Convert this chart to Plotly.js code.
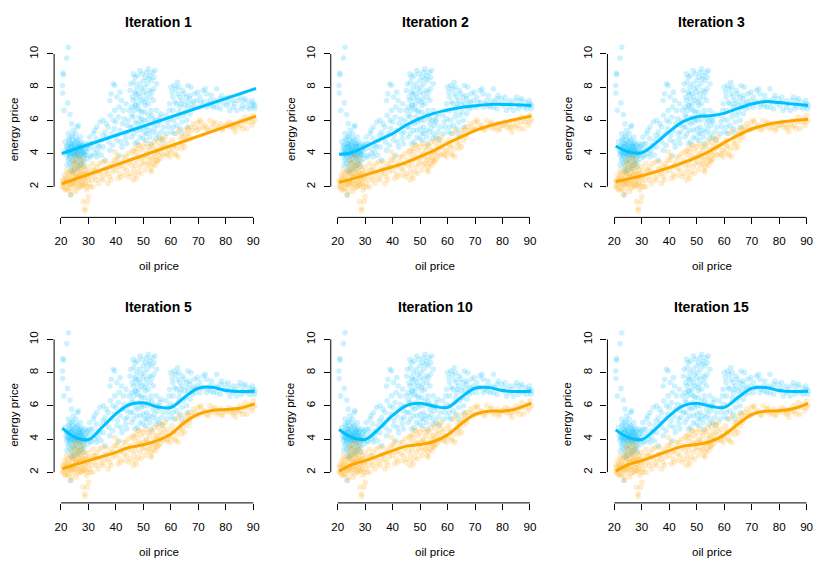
<!DOCTYPE html>
<html>
<head>
    <title>Iterations</title>
    <script src="https://cdn.plot.ly/plotly-3.0.1.min.js"></script>
    <style>
        body { margin: 0; background: white; }
        #chart { width: 830px; height: 571px; }
    </style>
</head>
<body>
    <div id="chart"></div>
    <script>
        // scatter data (same in every panel)
        const blueOil = [
            22.7, 22.1, 20.7, 20.9, 20.5, 20.6, 22.4, 21.1, 23.3, 23.9, 26.3, 26.0, 24.5,
            21.5, 21.8, 22.0, 22.3, 22.6, 22.8, 23.0, 23.2, 23.4, 23.6, 23.8, 24.0, 24.1, 24.3,
            24.5, 24.6, 24.8, 25.0, 25.1, 25.3, 25.5, 25.6, 25.8, 26.0, 26.1, 26.3, 26.5, 26.7,
            26.9, 27.0, 27.2, 27.4, 27.6, 27.8, 28.0, 28.2, 28.5, 28.7, 29.0, 29.3, 29.6, 23.5,
            24.4, 25.9, 22.2, 24.2, 25.4, 27.1, 23.5,
            30.2, 30.6, 31.0, 31.8, 32.4, 33.0, 33.5, 34.2, 34.8, 35.4, 35.4, 36.0, 36.6, 37.2,
            37.8, 37.8, 38.3, 39.0, 39.6, 39.0, 39.6, 40.3, 40.3, 40.9, 41.5, 42.0, 42.7, 42.2,
            43.3, 43.9, 44.5, 44.0, 36.0, 33.0, 38.5, 41.0,
            45.1, 45.7, 45.7, 46.3, 46.9, 46.3, 46.3, 46.9, 47.5, 47.5, 48.2, 48.8, 48.8, 48.8,
            49.4, 49.4, 50.0, 50.0, 50.6, 50.6, 51.2, 51.2, 51.2, 51.8, 51.8, 51.8, 52.4, 52.4,
            53.0, 53.0, 53.6, 53.6, 54.2, 54.8, 54.8, 54.8, 55.4, 56.0, 56.6, 57.3, 47.0, 48.0,
            50.2, 52.8, 49.8, 46.0, 53.2, 47.6, 50.4,
            58.5, 59.1, 59.6, 59.7, 60.7, 60.8, 60.8, 61.2, 61.8, 62.4, 62.7, 63.2, 63.3, 63.3,
            64.3, 64.5, 65.1, 65.6, 65.8, 66.1, 66.8, 67.0, 67.3, 67.6, 68.6, 69.4, 62.0, 64.0,
            70.6, 70.6, 71.8, 73.0, 73.0, 74.2, 74.8, 75.5, 76.7, 76.7, 77.9, 79.1, 80.9, 81.5,
            82.7, 82.7, 84.0, 85.2, 85.8, 86.4, 87.6, 88.2, 89.4, 90.0, 90.6, 72.0, 78.5
        ];
        const blueEnergy = [
            10.4, 9.75, 8.85, 8.75, 8.1, 7.65, 7.05, 6.6, 6.35, 5.8, 5.7, 5.6, 5.4,
            4.7, 4.2, 3.9, 4.5, 3.6, 4.9, 4.1, 3.4, 4.4, 3.8, 4.6, 3.2, 4.0, 4.8,
            3.6, 4.3, 3.9, 4.5, 3.4, 4.1, 3.7, 4.9, 4.3, 3.5, 4.0, 4.6, 3.8, 4.2,
            3.3, 4.4, 3.9, 4.7, 3.6, 4.1, 3.8, 4.5, 3.5, 4.2, 3.9, 4.4, 3.7, 3.0,
            2.9, 3.1, 3.3, 5.1, 5.2, 5.0, 1.5,
            4.3, 4.6, 3.9, 5.2, 4.0, 5.6, 4.5, 5.9, 4.8, 4.4, 6.0, 5.3, 5.0, 5.6,
            4.2, 7.2, 7.6, 8.2, 8.1, 6.0, 6.6, 7.4, 4.8, 6.2, 5.4, 7.2, 6.6, 4.4,
            5.2, 4.6, 6.0, 5.7, 3.6, 3.8, 5.2, 3.9,
            7.8, 6.8, 5.0, 8.8, 8.6, 7.2, 6.2, 7.7, 8.0, 5.4, 7.6, 9.0, 6.6, 5.0,
            7.2, 6.1, 8.4, 7.7, 6.5, 5.2, 8.9, 7.6, 5.6, 9.1, 7.0, 6.3, 8.7, 5.0,
            8.4, 7.7, 7.2, 5.8, 9.0, 8.2, 6.6, 5.2, 6.0, 6.2, 5.3, 5.6, 6.9, 5.8,
            6.0, 6.6, 4.9, 5.6, 5.3, 7.3, 7.1,
            5.2, 5.6, 7.0, 6.1, 7.4, 6.6, 5.6, 8.1, 7.9, 8.3, 6.2, 7.4, 6.8, 5.5,
            7.8, 6.3, 6.9, 7.4, 6.0, 8.1, 7.5, 6.4, 8.0, 7.0, 7.6, 7.2, 7.0, 7.2,
            7.4, 6.8, 7.8, 7.6, 6.8, 7.2, 7.5, 6.8, 7.9, 6.8, 7.3, 7.0, 7.4, 6.6,
            7.2, 6.8, 6.6, 7.4, 6.7, 7.2, 6.8, 7.1, 6.9, 7.0, 6.9, 7.1, 7.5
        ];
        const blueOilMore = [
            45.4, 46.0, 46.6, 47.2, 47.8, 48.4, 48.6, 49.1, 49.6, 50.3, 50.8, 51.4, 52.0, 52.6,
            53.3, 53.9, 49.0, 47.3, 48.0, 51.0, 52.2, 53.8, 46.6, 50.7,
            45.2, 45.8, 46.5, 47.2, 47.8, 48.4, 48.9, 49.5, 50.1, 50.9, 51.5, 52.1, 52.7, 53.4,
            54.0, 54.6, 55.2, 55.8, 56.4, 57.0, 46.9, 49.2, 51.3, 53.0, 54.4, 55.9,
            36.5, 37.4, 38.0, 38.8, 39.4, 40.0, 40.6, 41.2, 41.8, 42.4, 43.0, 43.6, 44.2, 44.8,
            41.5, 43.7,
            30.8, 31.4, 32.0, 32.8, 33.4, 34.0, 34.6, 35.2, 30.4, 32.2,
            22.1, 22.5, 22.9, 23.1, 23.7, 24.2, 24.7, 25.2, 25.7, 26.2, 26.8, 27.3, 27.9, 28.4,
            28.9, 29.4, 23.3, 24.9, 26.6, 27.5, 25.0, 26.4, 28.3, 29.8, 22.7, 23.9,
            58.2, 58.8, 59.4, 60.2, 60.5, 61.0, 61.5, 62.1, 62.6, 63.0, 63.7, 64.1, 64.8, 65.3,
            65.9, 66.4, 67.0, 67.8, 68.3, 69.0, 69.7, 61.3, 63.9, 66.0, 60.0, 62.9,
            71.0, 72.5, 73.6, 74.6, 75.9, 77.2, 78.0, 79.6, 80.4, 81.0, 83.2, 84.6, 86.0, 87.0,
            88.8, 89.7, 90.4,
            22.4, 22.8, 23.4, 23.8, 24.3, 24.6, 25.1, 25.5, 25.9, 26.3, 26.7, 27.1, 27.6, 28.0,
            28.6, 23.0, 24.0, 25.3, 26.0, 27.0
        ];
        const blueEnergyMore = [
            8.2, 7.4, 8.3, 6.9, 8.7, 7.0, 8.2, 7.9, 8.8, 8.0, 8.6, 8.2, 8.5, 7.4,
            8.9, 8.6, 7.4, 7.6, 6.7, 7.3, 7.8, 7.9, 6.6, 6.9,
            5.6, 6.3, 5.2, 5.9, 4.7, 6.2, 5.4, 6.5, 5.5, 4.8, 6.0, 5.4, 4.6, 6.1,
            5.5, 4.9, 5.7, 5.0, 6.4, 4.8, 4.6, 5.9, 5.2, 6.3, 6.0, 5.9,
            5.8, 4.7, 6.3, 4.5, 5.5, 5.9, 5.1, 6.8, 4.7, 5.8, 6.1, 4.9, 5.3, 6.6,
            7.7, 7.0,
            3.8, 4.6, 4.3, 4.9, 4.1, 4.4, 3.9, 5.1, 5.0, 5.4,
            4.4, 4.0, 3.7, 4.6, 4.2, 3.5, 4.6, 3.9, 4.4, 4.1, 3.7, 4.2, 4.4, 4.0,
            4.6, 4.1, 3.9, 4.2, 4.5, 3.4, 3.0, 3.2, 3.2, 4.5, 5.2, 5.0,
            6.3, 5.9, 6.6, 5.3, 7.7, 6.0, 7.1, 5.7, 7.6, 6.5, 7.0, 5.9, 7.6, 6.5,
            7.1, 6.8, 7.3, 6.7, 7.1, 6.8, 7.7, 5.2, 5.2, 5.6, 8.0, 8.0,
            7.1, 7.9, 7.0, 6.9, 7.2, 7.1, 6.7, 7.3, 6.9, 7.1, 7.0, 7.2, 6.9, 7.3,
            6.7, 7.2, 6.7,
            4.1, 4.3, 4.0, 4.4, 4.1, 3.9, 4.3, 4.0, 4.2, 3.9, 4.4, 4.0, 4.3, 4.1,
            3.9, 4.8, 4.5, 4.7, 4.8, 4.6
        ];
        const orangeOil = [
            20.5, 20.8, 21.2, 21.5, 21.8, 22.1, 22.4, 22.7, 23.0, 23.3, 23.5, 23.9, 24.0, 24.2,
            24.5, 24.5, 24.8, 25.1, 25.3, 25.5, 25.7, 25.9, 26.1, 26.3, 26.5, 26.7, 26.9, 26.9,
            27.2, 27.5, 27.7, 28.0, 28.1, 28.1, 28.1, 28.4, 28.7, 28.7, 28.7, 29.0, 29.3, 29.6,
            29.6, 30.0, 30.0, 30.3, 30.6, 31.2, 31.5, 31.8, 32.4, 33.0, 33.6, 34.2, 35.0, 35.4,
            36.0, 36.6, 37.2, 37.8, 38.4, 39.0, 39.6, 40.3, 40.8, 41.4, 42.0, 42.7, 43.3,
            43.9, 44.5, 45.1, 45.7, 46.3, 46.3, 46.8, 47.5, 47.5, 48.2, 48.8, 49.4, 49.0, 50.0,
            50.6, 51.2, 51.8, 52.0, 52.4, 53.0, 53.6, 53.6, 54.2, 54.8, 55.0, 55.4, 55.4, 56.0,
            56.6, 57.3, 57.9, 58.5, 59.1, 59.7,
            60.8, 61.4, 62.0, 62.7, 63.3, 64.0, 64.5, 65.1, 65.8, 66.4, 67.0, 68.2, 69.4, 70.6,
            71.8, 73.0, 74.2, 75.5, 77.3, 78.5, 79.7, 81.5, 82.7, 84.0, 85.2, 87.0, 87.6, 88.2,
            89.4, 90.0, 90.6, 76.0, 83.5
        ];
        const orangeEnergy = [
            2.0, 2.3, 1.9, 2.5, 2.2, 3.0, 1.8, 2.1, 2.7, 2.4, 1.5, 1.7, 2.9, 2.3,
            2.8, 3.6, 2.0, 3.2, 2.6, 2.2, 3.4, 1.9, 2.9, 2.6, 3.1, 2.3, 2.0, 3.8,
            2.7, 2.3, 3.3, 2.5, 2.8, 3.6, 1.1, 2.1, 2.4, 0.7, 0.55, 3.0, 1.8, 1.1,
            2.6, 1.4, 3.2, 2.2, 2.0, 2.4, 3.4, 3.0, 2.6, 3.2, 2.2, 2.8, 3.5, 2.4,
            3.1, 3.0, 2.2, 2.6, 3.4, 3.2, 4.1, 3.6, 2.5, 2.8, 3.3, 3.8, 2.7,
            3.0, 4.0, 2.8, 3.3, 2.4, 4.2, 3.9, 2.5, 3.6, 4.5, 3.2, 4.2, 3.7, 3.8,
            3.0, 4.0, 4.4, 3.4, 3.6, 3.2, 3.4, 4.4, 3.8, 4.2, 3.5, 3.6, 4.7, 4.4,
            4.0, 4.6, 5.0, 4.0, 4.6, 3.8,
            4.4, 4.0, 5.2, 3.8, 4.6, 4.3, 5.0, 5.4, 4.8, 5.2, 5.6, 5.8, 5.4, 6.0,
            5.6, 5.5, 6.0, 5.8, 5.6, 5.4, 5.7, 5.6, 5.5, 5.8, 6.0, 6.2, 5.5, 5.9,
            5.7, 6.3, 6.0, 5.9, 5.3
        ];
        const orangeOilMore = [
            20.6, 21.0, 21.3, 21.7, 22.0, 22.3, 22.6, 22.9, 23.2, 23.6, 23.8, 24.1, 24.4, 24.7,
            25.0, 25.4, 25.6, 25.8, 26.2, 26.4, 26.8, 27.0, 27.3, 27.6, 27.9, 28.3, 28.6, 28.9,
            29.2, 29.5, 29.8, 30.1, 25.2, 26.0, 27.0, 24.0,
            30.8, 31.6, 32.2, 32.8, 33.4, 34.0, 34.6, 35.8, 36.4, 37.0, 37.6, 38.2, 38.8, 39.4,
            40.0, 40.6, 41.2, 41.8, 42.4, 43.0, 43.6,
            44.2, 44.8, 45.4, 45.9, 46.5, 46.9, 47.1, 47.7, 48.1, 48.5, 49.1, 49.5, 49.9, 50.3,
            50.8, 51.3, 51.6, 52.2, 52.6, 53.2, 53.8, 54.3, 54.6, 55.1, 55.6, 56.2, 56.8, 57.4,
            57.0, 56.0, 54.0, 52.8, 50.8, 48.6, 47.3, 53.0,
            58.1, 58.8, 59.4, 60.1, 60.5, 61.1, 61.8, 62.3, 62.9, 63.6, 64.2, 65.0, 65.5, 66.2,
            66.9, 67.6, 68.8, 69.8,
            70.2, 71.0, 72.4, 73.6, 74.8, 76.6, 78.0, 79.0, 80.5, 81.0, 82.2, 83.0, 84.6, 85.6,
            86.2, 86.8, 88.8, 89.8
        ];
        const orangeEnergyMore = [
            2.4, 2.1, 2.7, 1.8, 2.4, 2.8, 2.5, 1.9, 2.2, 2.9, 2.1, 2.6, 2.2, 3.1,
            2.4, 2.8, 1.7, 2.6, 2.2, 3.3, 2.7, 3.0, 2.0, 2.9, 2.1, 3.2, 2.7, 2.2,
            2.8, 2.0, 2.5, 2.9, 3.6, 3.9, 3.5, 3.3,
            2.7, 2.0, 3.0, 2.4, 2.9, 3.4, 2.5, 2.7, 3.5, 2.8, 3.2, 2.4, 2.9, 3.6,
            3.0, 3.8, 3.2, 2.6, 3.5, 3.1, 3.8,
            3.4, 2.6, 3.6, 4.1, 3.0, 2.7, 3.3, 4.1, 2.9, 3.8, 2.8, 3.4, 4.4, 3.5,
            3.9, 3.3, 3.8, 4.2, 3.0, 3.7, 4.0, 3.3, 3.6, 4.1, 3.9, 3.7, 4.3, 3.9,
            4.9, 4.9, 4.7, 4.5, 4.6, 4.5, 4.3, 2.9,
            4.4, 3.9, 4.2, 4.1, 4.8, 4.5, 3.9, 4.3, 5.4, 4.9, 4.6, 4.4, 5.1, 5.5,
            5.0, 5.4, 5.6, 5.9,
            5.5, 5.9, 5.7, 5.4, 5.6, 5.5, 5.8, 5.5, 5.7, 5.9, 5.8, 5.6, 5.6, 5.7,
            5.5, 5.9, 6.1, 5.9
        ];

        // fitted curves
        const iter1Oil = [20.3, 91];
        const iter1Blue = [4.0, 7.92];
        const iter1Orange = [2.18, 6.25];

        const curveOil = [20.5, 25, 30, 35, 40, 45, 50, 55, 60, 65, 70, 75, 80, 85, 90.5];
        const iter2Blue = [3.95, 4.05, 4.41, 4.81, 5.2, 5.72, 6.12, 6.42, 6.62, 6.78, 6.88, 6.96, 6.96, 6.94, 6.9];
        const iter2Orange = [2.26, 2.46, 2.7, 2.96, 3.2, 3.47, 3.81, 4.17, 4.61, 5.0, 5.38, 5.66, 5.88, 6.06, 6.26];
        const iter3Blue = [4.45, 4.11, 4.05, 4.61, 5.32, 5.92, 6.22, 6.28, 6.42, 6.72, 6.98, 7.13, 7.07, 6.98, 6.9];
        const iter3Orange = [2.3, 2.46, 2.66, 2.9, 3.15, 3.45, 3.77, 4.17, 4.65, 5.1, 5.48, 5.72, 5.88, 5.98, 6.06];
        const iter5Blue = [4.65, 4.11, 3.97, 4.71, 5.52, 6.08, 6.18, 5.95, 5.9, 6.52, 7.06, 7.12, 6.92, 6.86, 6.88];
        const iter5Orange = [2.2, 2.45, 2.7, 2.95, 3.2, 3.5, 3.65, 3.9, 4.3, 5.0, 5.5, 5.72, 5.78, 5.86, 6.12];
        const iter10Blue = [4.57, 4.11, 3.97, 4.61, 5.42, 6.02, 6.16, 5.98, 5.9, 6.52, 7.06, 7.1, 6.92, 6.86, 6.88];
        const iter10Orange = [2.06, 2.44, 2.7, 3.0, 3.3, 3.57, 3.67, 3.85, 4.25, 4.92, 5.48, 5.68, 5.68, 5.82, 6.16];
        const iter15Blue = [4.55, 4.1, 3.97, 4.6, 5.4, 6.0, 6.15, 5.98, 5.9, 6.5, 7.05, 7.1, 6.92, 6.86, 6.88];
        const iter15Orange = [2.06, 2.45, 2.7, 3.0, 3.3, 3.57, 3.67, 3.85, 4.25, 4.9, 5.47, 5.68, 5.7, 5.82, 6.15];

        const panelTitles = ['Iteration 1', 'Iteration 2', 'Iteration 3', 'Iteration 5', 'Iteration 10', 'Iteration 15'];
        const xTicks = [20, 30, 40, 50, 60, 70, 80, 90];
        const yTicks = [2, 4, 6, 8, 10];

        const panels = [
            {x: iter1Oil, blue: iter1Blue, orange: iter1Orange, smooth: false},
            {x: curveOil, blue: iter2Blue, orange: iter2Orange, smooth: true},
            {x: curveOil, blue: iter3Blue, orange: iter3Orange, smooth: true},
            {x: curveOil, blue: iter5Blue, orange: iter5Orange, smooth: true},
            {x: curveOil, blue: iter10Blue, orange: iter10Orange, smooth: true},
            {x: curveOil, blue: iter15Blue, orange: iter15Orange, smooth: true}
        ];

        const allBlueOil = blueOil.concat(blueOilMore);
        const allBlueEnergy = blueEnergy.concat(blueEnergyMore);
        const allOrangeOil = orangeOil.concat(orangeOilMore);
        const allOrangeEnergy = orangeEnergy.concat(orangeEnergyMore);

        const BLUE = '#00BFFF';
        const ORANGE = '#FFA500';
        const FONT = 'Liberation Sans, Arial, Helvetica, sans-serif';

        const W = 830, H = 571;
        const cellW = W / 3, cellH = H / 2;
        // plot region inside a cell, in pixels
        const px0 = 54.1, px1 = 262.9, py0 = 40.7, py1 = 217.4;

        const data = [];
        const layout = {
            width: W,
            height: H,
            margin: {l: 0, r: 0, t: 0, b: 0},
            paper_bgcolor: 'white',
            plot_bgcolor: 'white',
            showlegend: false,
            font: {family: FONT, size: 11.6, color: '#000'},
            shapes: [],
            annotations: []
        };

        panels.forEach((p, i) => {
            const n = i + 1;
            const sfx = n === 1 ? '' : String(n);
            const xa = 'x' + sfx, ya = 'y' + sfx;
            const col = i % 3, row = Math.floor(i / 3);

            data.push({
                x: allBlueOil, y: allBlueEnergy, xaxis: xa, yaxis: ya,
                type: 'scatter', mode: 'markers', hoverinfo: 'skip',
                marker: {size: 5.6, color: 'rgba(0,191,255,0.2)', line: {width: 0}}
            });
            data.push({
                x: allOrangeOil, y: allOrangeEnergy, xaxis: xa, yaxis: ya,
                type: 'scatter', mode: 'markers', hoverinfo: 'skip',
                marker: {size: 5.6, color: 'rgba(255,165,0,0.2)', line: {width: 0}}
            });
            data.push({
                x: p.x, y: p.blue, xaxis: xa, yaxis: ya,
                type: 'scatter', mode: 'lines',
                line: {color: BLUE, width: 3, shape: p.smooth ? 'spline' : 'linear', smoothing: 1}
            });
            data.push({
                x: p.x, y: p.orange, xaxis: xa, yaxis: ya,
                type: 'scatter', mode: 'lines',
                line: {color: ORANGE, width: 3, shape: p.smooth ? 'spline' : 'linear', smoothing: 1}
            });

            layout['xaxis' + sfx] = {
                domain: [(px0 + col * cellW) / W, (px1 + col * cellW) / W],
                anchor: ya,
                range: [17.5, 93.5],
                showgrid: false, zeroline: false, showline: false,
                ticks: 'outside', ticklen: 6, tickwidth: 1, tickcolor: '#000',
                tickvals: xTicks, ticklabelstandoff: 7,
                tickfont: {family: FONT, size: 11.6, color: '#000'}
            };
            layout['yaxis' + sfx] = {
                domain: [1 - (py1 + row * cellH) / H, 1 - (py0 + row * cellH) / H],
                anchor: xa,
                range: [0.15, 10.8],
                showgrid: false, zeroline: false, showline: false,
                ticks: 'outside', ticklen: 6, tickwidth: 1, tickcolor: '#000',
                tickvals: yTicks, tickangle: -90, ticklabelstandoff: 4,
                tickfont: {family: FONT, size: 11.6, color: '#000'}
            };

            // R style axis lines that only span the ticks
            layout.shapes.push({
                type: 'line', xref: xa, yref: ya + ' domain',
                x0: 20, x1: 90, y0: 0, y1: 0,
                line: {color: '#000', width: 1}
            });
            layout.shapes.push({
                type: 'line', xref: xa + ' domain', yref: ya,
                x0: 0, x1: 0, y0: 2, y1: 10,
                line: {color: '#000', width: 1}
            });

            layout.annotations.push({
                text: '<b>' + panelTitles[i] + '</b>',
                xref: xa + ' domain', yref: ya + ' domain',
                x: 0.5, y: 1.1075, xanchor: 'center', yanchor: 'middle',
                showarrow: false, font: {family: FONT, size: 14, color: '#000'}
            });
            layout.annotations.push({
                text: 'oil price',
                xref: xa + ' domain', yref: ya + ' domain',
                x: 0.5, y: -0.2733, xanchor: 'center', yanchor: 'middle',
                showarrow: false, font: {family: FONT, size: 11.6, color: '#000'}
            });
            layout.annotations.push({
                text: 'energy price', textangle: -90,
                xref: xa + ' domain', yref: ya + ' domain',
                x: -0.1954, y: 0.5, xanchor: 'center', yanchor: 'middle',
                showarrow: false, font: {family: FONT, size: 11.6, color: '#000'}
            });
        });

        Plotly.newPlot('chart', data, layout, {staticPlot: true});
    </script>
</body>
</html>
